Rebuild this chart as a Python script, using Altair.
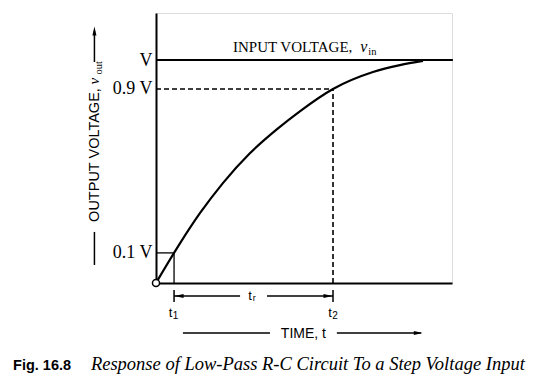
import altair as alt
import pandas as pd

# ---- values (time in arbitrary units 0..10, voltage as fraction of V) ----
curve_t = [0, 0.61, 1.49, 2.26, 3.18, 4.09, 4.86, 5.98, 7.33, 8.24, 9.02]
curve_v = [0, 0.135, 0.314, 0.448, 0.583, 0.690, 0.770, 0.87, 0.946, 0.977, 0.996]

V_LEVEL = 1.0
V90 = 0.87
V10 = 0.135
T1 = 0.61
T2 = 5.98
T_END = 10.03

tick_values = [V10, V90, V_LEVEL]
tick_labels = ["0.1 V", "0.9 V", "V"]

SERIF = "Liberation Serif"
SANS = "Liberation Sans"

xs = alt.Scale(domain=[0, 10], nice=False, zero=False)
ys = alt.Scale(domain=[0, 1.2108], nice=False, zero=False)

label_expr = " : ".join(
    f"abs(datum.value - {v}) < 0.001 ? '{l}'" for v, l in zip(tick_values, tick_labels)
) + " : ''"

X = lambda f="x": alt.X(f"{f}:Q", scale=xs, title=None)
Y = lambda f="y": alt.Y(f"{f}:Q", scale=ys, title=None)

# axes carrier
axes_df = pd.DataFrame({"x": [0], "y": [0]})
axes = alt.Chart(axes_df).mark_point(opacity=0).encode(
    x=alt.X("x:Q", scale=xs, title=None,
            axis=alt.Axis(domain=True, domainColor="black", domainWidth=2,
                          ticks=False, labels=False, grid=False)),
    y=alt.Y("y:Q", scale=ys, title=None,
            axis=alt.Axis(domain=True, domainColor="black", domainWidth=2,
                          ticks=False, grid=False,
                          values=tick_values, labelExpr=label_expr,
                          labelFont=SERIF, labelFontSize=18, labelColor="black",
                          labelPadding=4, labelBaseline="middle")),
)

# curve
curve_df = pd.DataFrame({"t": curve_t, "v": curve_v})
curve = alt.Chart(curve_df).mark_line(color="black", strokeWidth=2.2, interpolate="monotone").encode(
    x=X("t"), y=Y("v"))

# solid segments
solid_df = pd.DataFrame({
    "x": [0, 0, T1], "x2": [T_END, T1, T1],
    "y": [V_LEVEL, V10, 0], "y2": [V_LEVEL, V10, V10],
    "w": [2.0, 1.3, 1.3],
})
solid = alt.Chart(solid_df).mark_rule(color="black").encode(
    x=X("x"), x2="x2", y=Y("y"), y2="y2", strokeWidth=alt.StrokeWidth("w:Q", scale=None))

dash_df = pd.DataFrame({"x": [0, T2], "x2": [T2, T2], "y": [V90, 0], "y2": [V90, V90]})
dashed = alt.Chart(dash_df).mark_rule(color="black", strokeWidth=1.6, strokeDash=[5, 3]).encode(
    x=X("x"), x2="x2", y=Y("y"), y2="y2")

# annotation guide lines (below axis / left title)
guide_df = pd.DataFrame({
    "x":  [T1, T2, T1, 3.75, 0.91, 6.11, -2.08, -2.08],
    "x2": [T1, T2, 2.84, T2, 3.85, 8.95, -2.08, -2.08],
    "y":  [-0.031, -0.031, -0.058, -0.058, -0.224, -0.224, 0.991, 0.229],
    "y2": [-0.085, -0.085, -0.058, -0.058, -0.224, -0.224, 1.13, 0.081],
})
guides = alt.Chart(guide_df).mark_rule(color="black", strokeWidth=1.5).encode(
    x=X("x"), x2="x2", y=Y("y"), y2="y2")

heads_df = pd.DataFrame({
    "x": [0.78, 5.81, 8.86, -2.08],
    "y": [-0.058, -0.058, -0.224, 1.13],
    "shape": ["M1,-0.45 L-1,0 L1,0.45 Z", "M-1,-0.45 L1,0 L-1,0.45 Z",
              "M-1,-0.45 L1,0 L-1,0.45 Z", "M-0.45,1 L0,-1 L0.45,1 Z"],
})
heads = alt.Chart(heads_df).mark_point(filled=True, color="black", size=80, opacity=1).encode(
    x=X("x"), y=Y("y"), shape=alt.Shape("shape:N", scale=None))

origin = alt.Chart(pd.DataFrame({"x": [0], "y": [0]})).mark_point(
    shape="circle", size=50, filled=True, fill="white", stroke="black", strokeWidth=1.5, opacity=1
).encode(x=X("x"), y=Y("y"))

def txt(df, **kw):
    base = dict(color="black", baseline="alphabetic")
    base.update(kw)
    enc = dict(x=X("x"), y=Y("y"), text="text:N", size=alt.Size("s:Q", scale=None))
    if "a" in df.columns:
        enc["angle"] = alt.Angle("a:Q", scale=None)
    return alt.Chart(df).mark_text(**base).encode(**enc)

serif_left = txt(pd.DataFrame({
    "x": [2.60, 7.17], "y": [1.036, 1.022], "text": ["INPUT VOLTAGE,", "in"], "s": [15, 10.5]}),
    font=SERIF, align="left")
serif_italic = txt(pd.DataFrame({
    "x": [6.90, -2.20], "y": [1.036, -0.390], "text": ["v", "Response of Low-Pass R-C Circuit To a Step Voltage Input"],
    "s": [16, 18.5]}), font=SERIF, fontStyle="italic", align="left")

rot_sans = txt(pd.DataFrame({"x": [-1.93], "y": [0.274], "text": ["OUTPUT VOLTAGE,"], "s": [14.5], "a": [270]}),
               font=SANS, align="left")
rot_italic = txt(pd.DataFrame({"x": [-1.92], "y": [0.89], "text": ["v"], "s": [15], "a": [270]}),
                 font=SERIF, fontStyle="italic", align="left")
rot_sub = txt(pd.DataFrame({"x": [-1.82], "y": [0.935], "text": ["out"], "s": [10.5], "a": [270]}),
              font=SERIF, align="left")

sans_center = txt(pd.DataFrame({
    "x": [3.18, 3.32, 0.49, 0.66, 5.88, 6.05, 4.98],
    "y": [-0.076, -0.082, -0.152, -0.161, -0.152, -0.161, -0.247],
    "text": ["t", "r", "t", "1", "t", "2", "TIME, t"],
    "s": [13, 9, 13, 10, 13, 10, 14]}), font=SANS, align="center")

fig_label = txt(pd.DataFrame({"x": [-4.83], "y": [-0.390], "text": ["Fig. 16.8"], "s": [14.5]}),
                font=SANS, fontWeight="bold", align="left")

chart = alt.layer(
    axes, solid, dashed, curve, guides, heads, origin,
    serif_left, serif_italic, rot_sans, rot_italic, rot_sub, sans_center, fig_label
).properties(
    width=296, height=270,
    autosize=alt.AutoSizeParams(type="none"),
    padding={"left": 148, "top": 5, "right": 74, "bottom": 95},
).configure_view(strokeWidth=0, stroke="transparent").configure(background="white")

chart.save("out.html", embed_options={"renderer": "svg", "actions": False})
